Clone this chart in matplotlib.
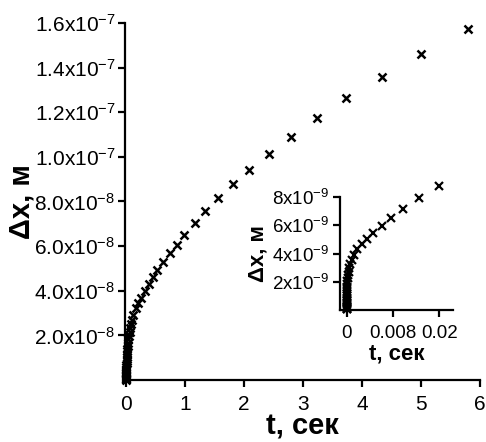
import matplotlib

matplotlib.use("Agg")

import matplotlib.pyplot as plt
from matplotlib.ticker import FixedLocator, FixedFormatter

plt.rcParams["font.family"] = ["Liberation Sans", "DejaVu Sans"]
plt.rcParams["mathtext.fontset"] = "custom"
plt.rcParams["mathtext.rm"] = "Liberation Sans"
plt.rcParams["mathtext.it"] = "Liberation Sans"

# main curve: time (s) and displacement (m)
main_t = [
    5.80, 5.00, 4.34, 3.73, 3.23, 2.79, 2.42, 2.09, 1.81, 1.55,
    1.34, 1.17, 0.988, 0.859, 0.746, 0.632, 0.530, 0.452, 0.385, 0.317,
    0.254, 0.208, 0.169, 0.124, 0.100, 0.083, 0.069, 0.057, 0.047, 0.039,
    0.032, 0.026, 0.021, 0.017, 0.014, 0.011, 0.009, 0.0072, 0.0058, 0.0046,
    0.0037, 0.0029, 0.0023, 0.0018, 0.0014, 0.0011, 0.0008, 0.0006, 0.00045, 0.0003,
    0.0002, 0.0001, 0.00005,
]
main_dx = [
    15.73e-8, 14.61e-8, 13.59e-8, 12.63e-8, 11.73e-8, 10.91e-8, 10.15e-8, 9.43e-8, 8.77e-8, 8.15e-8,
    7.58e-8, 7.05e-8, 6.50e-8, 6.05e-8, 5.68e-8, 5.28e-8, 4.93e-8, 4.60e-8, 4.29e-8, 3.99e-8,
    3.69e-8, 3.44e-8, 3.21e-8, 2.91e-8, 2.70e-8, 2.50e-8, 2.32e-8, 2.15e-8, 1.98e-8, 1.83e-8,
    1.68e-8, 1.54e-8, 1.41e-8, 1.28e-8, 1.16e-8, 1.05e-8, 0.94e-8, 0.84e-8, 0.75e-8, 0.66e-8,
    0.58e-8, 0.50e-8, 0.43e-8, 0.37e-8, 0.31e-8, 0.26e-8, 0.21e-8, 0.17e-8, 0.13e-8, 0.09e-8,
    0.06e-8, 0.03e-8, 0.01e-8,
]

# inset curve: early times
inset_t = [
    0.0200, 0.01568, 0.01209, 0.00957, 0.00756, 0.00575, 0.00432, 0.00324, 0.00229, 0.00158,
    0.00104, 0.00075, 0.00055, 0.00040, 0.00029, 0.00021, 0.00015, 0.00011, 0.00008, 0.00006,
    0.00004, 0.00003, 0.00002, 0.000015, 0.00001, 0.000007, 0.000005, 0.0000035, 0.0000025, 0.0000015,
    0.000001, 0.0000005, 0.0000002,
]
inset_dx = [
    8.81e-9, 7.94e-9, 7.17e-9, 6.51e-9, 5.99e-9, 5.49e-9, 5.04e-9, 4.66e-9, 4.31e-9, 3.90e-9,
    3.55e-9, 3.25e-9, 2.98e-9, 2.72e-9, 2.48e-9, 2.25e-9, 2.04e-9, 1.84e-9, 1.65e-9, 1.47e-9,
    1.30e-9, 1.14e-9, 0.99e-9, 0.85e-9, 0.72e-9, 0.60e-9, 0.49e-9, 0.39e-9, 0.30e-9, 0.22e-9,
    0.15e-9, 0.08e-9, 0.03e-9,
]

main_xticks = [0, 1, 2, 3, 4, 5, 6]
main_yticks = [2e-8, 4e-8, 6e-8, 8e-8, 1.0e-7, 1.2e-7, 1.4e-7, 1.6e-7]
main_ylabels = [
    r"2.0x10$^{-8}$", r"4.0x10$^{-8}$", r"6.0x10$^{-8}$", r"8.0x10$^{-8}$",
    r"1.0x10$^{-7}$", r"1.2x10$^{-7}$", r"1.4x10$^{-7}$", r"1.6x10$^{-7}$",
]
inset_xticks = [0, 0.01, 0.02]
inset_xlabels = ["0", "0.008", "0.02"]
inset_yticks = [2e-9, 4e-9, 6e-9, 8e-9]
inset_ylabels = [r"2x10$^{-9}$", r"4x10$^{-9}$", r"6x10$^{-9}$", r"8x10$^{-9}$"]


def style_axes(ax, tick_size, xpad, ypad):
    for side in ("top", "right"):
        ax.spines[side].set_visible(False)
    for side in ("left", "bottom"):
        ax.spines[side].set_linewidth(1.6)
    ax.tick_params(direction="out", length=5, width=1.6, labelsize=tick_size)
    ax.tick_params(axis="x", pad=xpad)
    ax.tick_params(axis="y", pad=ypad)


fig = plt.figure(figsize=(4.86, 4.42), dpi=100)

ax = fig.add_axes([0.2572, 0.1403, 0.7305, 0.8077])
ax.plot(main_t, main_dx, linestyle="none", marker="x", color="black",
        markersize=6, markeredgewidth=1.8, clip_on=False)
ax.set_xlim(-0.02, 6)
ax.set_ylim(0, 1.6e-7)
ax.xaxis.set_major_locator(FixedLocator(main_xticks))
ax.yaxis.set_major_locator(FixedLocator(main_yticks))
ax.yaxis.set_major_formatter(FixedFormatter(main_ylabels))
style_axes(ax, 15, 6, 2)
ax.set_xlabel("t, сек", fontsize=21, fontweight="bold", labelpad=-1)
ax.set_ylabel("Δx, м", fontsize=21, fontweight="bold", labelpad=-1)

ins = fig.add_axes([0.6996, 0.2991, 0.2319, 0.2545])
ins.plot(inset_t, inset_dx, linestyle="none", marker="x", color="black",
         markersize=5.5, markeredgewidth=1.6, clip_on=False)
ins.set_xlim(-0.00145, 0.0229)
ins.set_ylim(0, 8e-9)
ins.xaxis.set_major_locator(FixedLocator(inset_xticks))
ins.xaxis.set_major_formatter(FixedFormatter(inset_xlabels))
ins.yaxis.set_major_locator(FixedLocator(inset_yticks))
ins.yaxis.set_major_formatter(FixedFormatter(inset_ylabels))
ins.patch.set_alpha(0)
style_axes(ins, 13.5, 6, 3)
ins.set_xlabel("t, сек", fontsize=16, fontweight="bold", labelpad=1)
ins.set_ylabel("Δx, м", fontsize=16, fontweight="bold", labelpad=2)

fig.savefig("out.png", dpi=100)
